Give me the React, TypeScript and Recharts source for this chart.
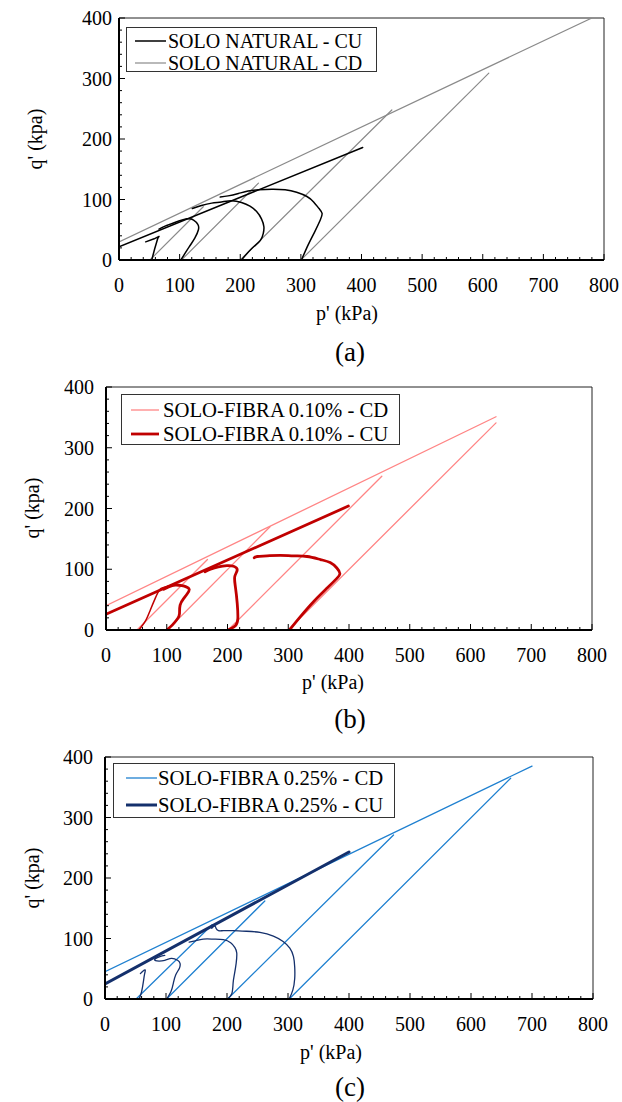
import React from 'react';
import { LineChart, Line, XAxis, YAxis, ReferenceArea, Legend } from 'recharts';

const FONT = '"Liberation Serif", "Times New Roman", Times, serif';

type Pt = { p: number; q: number };

// Axis ticks (minor every 20, labelled every 100)
const X_TICKS = [0, 20, 40, 60, 80, 100, 120, 140, 160, 180, 200, 220, 240, 260, 280, 300, 320, 340, 360, 380, 400, 420, 440, 460, 480, 500, 520, 540, 560, 580, 600, 620, 640, 660, 680, 700, 720, 740, 760, 780, 800];
const Y_TICKS = [0, 20, 40, 60, 80, 100, 120, 140, 160, 180, 200, 220, 240, 260, 280, 300, 320, 340, 360, 380, 400];

// ---------- (a) SOLO NATURAL ----------
const A_CD_ENV: Pt[] = [{ p: 0, q: 30 }, { p: 780, q: 400 }];
const A_CD_50: Pt[] = [{ p: 51, q: 0 }, { p: 139, q: 88 }];
const A_CD_100: Pt[] = [{ p: 103, q: 0 }, { p: 230, q: 127 }];
const A_CD_200: Pt[] = [{ p: 200, q: 0 }, { p: 450, q: 248 }];
const A_CD_300: Pt[] = [{ p: 300, q: 0 }, { p: 610, q: 309 }];
const A_CU_ENV: Pt[] = [{ p: 0, q: 22 }, { p: 402, q: 186 }];
const A_CU_50: Pt[] = [{ p: 54, q: 0 }, { p: 59, q: 19 }, { p: 64, q: 36 }, { p: 66, q: 39 }, { p: 58, q: 35 }, { p: 44, q: 30 }];
const A_CU_100: Pt[] = [{ p: 102, q: 0 }, { p: 116, q: 22 }, { p: 125, q: 36 }, { p: 131, q: 50 }, { p: 130, q: 59 }, { p: 123, q: 66 }, { p: 112, q: 68 }, { p: 92, q: 62 }, { p: 76, q: 56 }, { p: 66, q: 51 }];
const A_CU_200: Pt[] = [{ p: 202, q: 0 }, { p: 219, q: 19 }, { p: 233, q: 32 }, { p: 238, q: 44 }, { p: 239, q: 55 }, { p: 235, q: 68 }, { p: 227, q: 80 }, { p: 216, q: 89 }, { p: 202, q: 95 }, { p: 186, q: 98 }, { p: 169, q: 96 }, { p: 153, q: 94 }, { p: 136, q: 90 }, { p: 121, q: 85 }];
const A_CU_300: Pt[] = [{ p: 301, q: 0 }, { p: 312, q: 25 }, { p: 323, q: 47 }, { p: 332, q: 66 }, { p: 335, q: 77 }, { p: 330, q: 85 }, { p: 321, q: 96 }, { p: 310, q: 105 }, { p: 293, q: 112 }, { p: 274, q: 116 }, { p: 252, q: 117 }, { p: 230, q: 116 }, { p: 213, q: 114 }, { p: 197, q: 110 }, { p: 180, q: 106 }, { p: 167, q: 104 }];

// ---------- (b) SOLO-FIBRA 0.10% ----------
const B_CD_ENV: Pt[] = [{ p: 0, q: 40 }, { p: 642, q: 351 }];
const B_CD_50: Pt[] = [{ p: 51, q: 0 }, { p: 167, q: 116 }];
const B_CD_100: Pt[] = [{ p: 101, q: 0 }, { p: 270, q: 170 }];
const B_CD_200: Pt[] = [{ p: 201, q: 0 }, { p: 454, q: 253 }];
const B_CD_300: Pt[] = [{ p: 300, q: 0 }, { p: 642, q: 341 }];
const B_CU_ENV: Pt[] = [{ p: 0, q: 26 }, { p: 399, q: 204 }];
const B_CU_50: Pt[] = [{ p: 54, q: 0 }, { p: 65, q: 15 }, { p: 73, q: 33 }, { p: 81, q: 52 }, { p: 88, q: 66 }, { p: 95, q: 70 }, { p: 106, q: 73 }];
const B_CU_100: Pt[] = [{ p: 100, q: 0 }, { p: 109, q: 8 }, { p: 118, q: 19 }, { p: 121, q: 27 }, { p: 122, q: 41 }, { p: 128, q: 52 }, { p: 134, q: 60 }, { p: 137, q: 67 }, { p: 132, q: 71 }, { p: 125, q: 73 }, { p: 114, q: 74 }, { p: 103, q: 71 }, { p: 95, q: 67 }];
const B_CU_200: Pt[] = [{ p: 201, q: 0 }, { p: 213, q: 7 }, { p: 217, q: 19 }, { p: 216, q: 44 }, { p: 213, q: 71 }, { p: 212, q: 88 }, { p: 216, q: 99 }, { p: 210, q: 105 }, { p: 199, q: 106 }, { p: 185, q: 104 }, { p: 172, q: 100 }, { p: 163, q: 96 }];
const B_CU_300: Pt[] = [{ p: 302, q: 0 }, { p: 320, q: 22 }, { p: 342, q: 47 }, { p: 364, q: 69 }, { p: 380, q: 85 }, { p: 385, q: 93 }, { p: 380, q: 102 }, { p: 369, q: 111 }, { p: 353, q: 116 }, { p: 331, q: 121 }, { p: 309, q: 122 }, { p: 287, q: 123 }, { p: 265, q: 122 }, { p: 249, q: 121 }, { p: 244, q: 119 }];

// ---------- (c) SOLO-FIBRA 0.25% ----------
const C_CD_ENV: Pt[] = [{ p: 0, q: 45 }, { p: 700, q: 385 }];
const C_CD_50: Pt[] = [{ p: 51, q: 0 }, { p: 176, q: 123 }];
const C_CD_100: Pt[] = [{ p: 101, q: 0 }, { p: 262, q: 162 }];
const C_CD_200: Pt[] = [{ p: 201, q: 0 }, { p: 473, q: 271 }];
const C_CD_300: Pt[] = [{ p: 302, q: 0 }, { p: 665, q: 365 }];
const C_CU_ENV: Pt[] = [{ p: 0, q: 25 }, { p: 400, q: 243 }];
const C_CU_50: Pt[] = [{ p: 56, q: 0 }, { p: 60, q: 12 }, { p: 63, q: 29 }, { p: 65, q: 42 }, { p: 66, q: 48 }, { p: 62, q: 46 }, { p: 58, q: 42 }];
const C_CU_100: Pt[] = [{ p: 101, q: 0 }, { p: 108, q: 12 }, { p: 112, q: 26 }, { p: 116, q: 40 }, { p: 122, q: 51 }, { p: 123, q: 59 }, { p: 119, q: 64 }, { p: 109, q: 67 }, { p: 98, q: 64 }, { p: 85, q: 63 }, { p: 82, q: 66 }, { p: 90, q: 70 }, { p: 98, q: 72 }];
const C_CU_200: Pt[] = [{ p: 201, q: 0 }, { p: 208, q: 9 }, { p: 210, q: 26 }, { p: 212, q: 40 }, { p: 215, q: 59 }, { p: 216, q: 76 }, { p: 213, q: 85 }, { p: 206, q: 93 }, { p: 194, q: 98 }, { p: 178, q: 99 }, { p: 161, q: 99 }, { p: 148, q: 96 }, { p: 138, q: 94 }];
const C_CU_300: Pt[] = [{ p: 302, q: 0 }, { p: 308, q: 15 }, { p: 311, q: 34 }, { p: 311, q: 53 }, { p: 309, q: 70 }, { p: 303, q: 84 }, { p: 292, q: 95 }, { p: 276, q: 104 }, { p: 254, q: 110 }, { p: 232, q: 112 }, { p: 210, q: 113 }, { p: 194, q: 113 }, { p: 186, q: 113 }, { p: 182, q: 117 }, { p: 180, q: 121 }, { p: 175, q: 117 }];

// Legend labels
const A_LABELS = ['SOLO NATURAL - CU', 'SOLO NATURAL - CD'];
const B_LABELS = ['SOLO-FIBRA 0.10% - CD', 'SOLO-FIBRA 0.10% - CU'];
const C_LABELS = ['SOLO-FIBRA 0.25% - CD', 'SOLO-FIBRA 0.25% - CU'];

// Colours
const GRAY = '#8a8a8a';
const BLACK = '#000000';
const PINK = '#ff8585';
const DARKRED = '#c00000';
const BLUE = '#1f80d0';
const NAVY = '#14306c';

type Series = { data: Pt[]; color: string; width: number; curve: 'linear' | 'natural' };

const seriesA: Series[] = [
  { data: A_CD_ENV, color: GRAY, width: 1.2, curve: 'linear' },
  { data: A_CD_50, color: GRAY, width: 1.2, curve: 'linear' },
  { data: A_CD_100, color: GRAY, width: 1.2, curve: 'linear' },
  { data: A_CD_200, color: GRAY, width: 1.2, curve: 'linear' },
  { data: A_CD_300, color: GRAY, width: 1.2, curve: 'linear' },
  { data: A_CU_ENV, color: BLACK, width: 1.5, curve: 'linear' },
  { data: A_CU_50, color: BLACK, width: 1.5, curve: 'linear' },
  { data: A_CU_100, color: BLACK, width: 1.5, curve: 'natural' },
  { data: A_CU_200, color: BLACK, width: 1.5, curve: 'natural' },
  { data: A_CU_300, color: BLACK, width: 1.5, curve: 'natural' },
];
const seriesB: Series[] = [
  { data: B_CD_ENV, color: PINK, width: 1.3, curve: 'linear' },
  { data: B_CD_50, color: PINK, width: 1.3, curve: 'linear' },
  { data: B_CD_100, color: PINK, width: 1.3, curve: 'linear' },
  { data: B_CD_200, color: PINK, width: 1.3, curve: 'linear' },
  { data: B_CD_300, color: PINK, width: 1.3, curve: 'linear' },
  { data: B_CU_ENV, color: DARKRED, width: 2.8, curve: 'linear' },
  { data: B_CU_50, color: DARKRED, width: 1.5, curve: 'natural' },
  { data: B_CU_100, color: DARKRED, width: 2.8, curve: 'natural' },
  { data: B_CU_200, color: DARKRED, width: 2.8, curve: 'natural' },
  { data: B_CU_300, color: DARKRED, width: 2.8, curve: 'natural' },
];
const seriesC: Series[] = [
  { data: C_CD_ENV, color: BLUE, width: 1.3, curve: 'linear' },
  { data: C_CD_50, color: BLUE, width: 1.3, curve: 'linear' },
  { data: C_CD_100, color: BLUE, width: 1.3, curve: 'linear' },
  { data: C_CD_200, color: BLUE, width: 1.3, curve: 'linear' },
  { data: C_CD_300, color: BLUE, width: 1.3, curve: 'linear' },
  { data: C_CU_ENV, color: NAVY, width: 3, curve: 'linear' },
  { data: C_CU_50, color: NAVY, width: 1.3, curve: 'natural' },
  { data: C_CU_100, color: NAVY, width: 1.3, curve: 'natural' },
  { data: C_CU_200, color: NAVY, width: 1.3, curve: 'natural' },
  { data: C_CU_300, color: NAVY, width: 1.3, curve: 'natural' },
];

type LegendCfg = {
  left: number; top: number; w: number; h: number; font: number; rowH: number;
  rows: number[]; lx1: number; lx2: number; tx: number;
  items: { label: string; color: string; width: number }[];
};

const legendA: LegendCfg = {
  left: 126, top: 27, w: 251, h: 45, font: 20, rowH: 20, rows: [13, 35], lx1: 8, lx2: 39, tx: 41,
  items: [
    { label: A_LABELS[0], color: BLACK, width: 1.5 },
    { label: A_LABELS[1], color: GRAY, width: 1.2 },
  ],
};
const legendB: LegendCfg = {
  left: 121, top: 24, w: 279, h: 51, font: 20.7, rowH: 22, rows: [15, 39], lx1: 9, lx2: 37, tx: 41,
  items: [
    { label: B_LABELS[0], color: PINK, width: 1.3 },
    { label: B_LABELS[1], color: DARKRED, width: 2.8 },
  ],
};
const legendC: LegendCfg = {
  left: 113, top: 23, w: 282, h: 55, font: 20.7, rowH: 24, rows: [14, 41], lx1: 12, lx2: 43, tx: 44,
  items: [
    { label: C_LABELS[0], color: BLUE, width: 1.3 },
    { label: C_LABELS[1], color: NAVY, width: 3 },
  ],
};

const LegendBox = ({ cfg }: { cfg: LegendCfg }) => (
  <div
    style={{
      position: 'relative', width: cfg.w, height: cfg.h, boxSizing: 'border-box',
      border: '1px solid #333', background: '#fff', fontFamily: FONT, fontSize: cfg.font, color: '#000',
    }}
  >
    {cfg.items.map((it, i) => (
      <React.Fragment key={i}>
        <svg style={{ position: 'absolute', left: 0, top: cfg.rows[i] - 6 }} width={cfg.tx} height={12}>
          <line x1={cfg.lx1} x2={cfg.lx2} y1={6} y2={6} stroke={it.color} strokeWidth={it.width} />
        </svg>
        <div
          style={{
            position: 'absolute', left: cfg.tx, top: cfg.rows[i] - cfg.rowH / 2, height: cfg.rowH,
            lineHeight: `${cfg.rowH}px`, whiteSpace: 'nowrap',
          }}
        >
          {it.label}
        </div>
      </React.Fragment>
    ))}
  </div>
);

const XTick = (props: any) => {
  const { x, y, payload } = props;
  const v = payload.value;
  const major = v % 100 === 0;
  return (
    <g>
      <line x1={x} x2={x} y1={y} y2={y - (major ? 6 : 3)} stroke="#000" strokeWidth={1} />
      {major && (
        <text x={x} y={y + 25} dy="0.35em" textAnchor="middle" fontFamily={FONT} fontSize={20} fill="#000">
          {v}
        </text>
      )}
    </g>
  );
};

const makeYTick = (gap: number) => (props: any) => {
  const { x, y, payload } = props;
  const v = payload.value;
  const major = v % 100 === 0;
  return (
    <g>
      <line x1={x} x2={x + (major ? 6 : 3)} y1={y} y2={y} stroke="#000" strokeWidth={1} />
      {major && (
        <text x={x - gap} y={y} dy="0.35em" textAnchor="end" fontFamily={FONT} fontSize={20} fill="#000">
          {v}
        </text>
      )}
    </g>
  );
};

const AXIS_W = 50;
const AXIS_H = 40;

type PanelProps = {
  height: number;
  plot: { top: number; right: number; bottom: number; left: number };
  series: Series[];
  legend: LegendCfg;
  yGap: number;
};

const Panel = ({ height, plot, series, legend, yGap }: PanelProps) => (
  <LineChart
    width={622}
    height={height}
    margin={{ top: plot.top, right: plot.right, bottom: plot.bottom - AXIS_H, left: plot.left - AXIS_W }}
  >
    <ReferenceArea x1={0} x2={800} y1={0} y2={400} fill="none" stroke="#222" strokeWidth={1} ifOverflow="visible" />
    <XAxis
      type="number" dataKey="p" domain={[0, 800]} ticks={X_TICKS} interval={0}
      height={AXIS_H} tickSize={0} tickMargin={0} tickLine={false}
      axisLine={{ stroke: '#000', strokeWidth: 2 }} tick={XTick} allowDataOverflow
    />
    <YAxis
      type="number" dataKey="q" domain={[0, 400]} ticks={Y_TICKS} interval={0}
      width={AXIS_W} tickSize={0} tickMargin={0} tickLine={false}
      axisLine={{ stroke: '#000', strokeWidth: 2 }} tick={makeYTick(yGap)} allowDataOverflow
    />
    {series.map((s, i) => (
      <Line
        key={i} data={s.data} dataKey="q" type={s.curve} stroke={s.color} strokeWidth={s.width}
        dot={false} activeDot={false} isAnimationActive={false} legendType="none"
        strokeLinejoin="round" strokeLinecap="round"
      />
    ))}
    <Legend
      layout="horizontal" verticalAlign="middle" align="center"
      wrapperStyle={{ left: legend.left, top: legend.top, width: 'auto', height: 'auto' }}
      content={() => <LegendBox cfg={legend} />}
    />
  </LineChart>
);

export default function App() {
  return (
    <div style={{ position: 'absolute', left: 0, top: 0, width: 622, height: 1102, background: '#fff', overflow: 'hidden' }}>
      <div style={{ position: 'absolute', left: 0, top: 0 }}>
        <Panel height={370} plot={{ top: 18, right: 18, bottom: 110, left: 119 }} series={seriesA} legend={legendA} yGap={7} />
      </div>
      <div style={{ position: 'absolute', left: 0, top: 370 }}>
        <Panel height={370} plot={{ top: 17, right: 30, bottom: 110, left: 106 }} series={seriesB} legend={legendB} yGap={12} />
      </div>
      <div style={{ position: 'absolute', left: 0, top: 740 }}>
        <Panel height={362} plot={{ top: 17, right: 29, bottom: 103, left: 105 }} series={seriesC} legend={legendC} yGap={12} />
      </div>
      <svg style={{ position: 'absolute', left: 0, top: 0, pointerEvents: 'none' }} width={622} height={1102}>
        <g fontFamily={FONT} fill="#000">
          <text x={347} y={313} dominantBaseline="central" textAnchor="middle" fontSize={20}>p' (kPa)</text>
          <text x={350} y={352} dominantBaseline="central" textAnchor="middle" fontSize={27}>(a)</text>
          <text transform="translate(35,139) rotate(-90)" dominantBaseline="central" textAnchor="middle" fontSize={20}>q' (kpa)</text>

          <text x={333} y={682} dominantBaseline="central" textAnchor="middle" fontSize={20}>p' (kPa)</text>
          <text x={350} y={719} dominantBaseline="central" textAnchor="middle" fontSize={27}>(b)</text>
          <text transform="translate(32,508) rotate(-90)" dominantBaseline="central" textAnchor="middle" fontSize={20}>q' (kpa)</text>

          <text x={331} y={1052} dominantBaseline="central" textAnchor="middle" fontSize={20}>p' (kPa)</text>
          <text x={350} y={1087} dominantBaseline="central" textAnchor="middle" fontSize={27}>(c)</text>
          <text transform="translate(32,878) rotate(-90)" dominantBaseline="central" textAnchor="middle" fontSize={20}>q' (kpa)</text>
        </g>
      </svg>
    </div>
  );
}
